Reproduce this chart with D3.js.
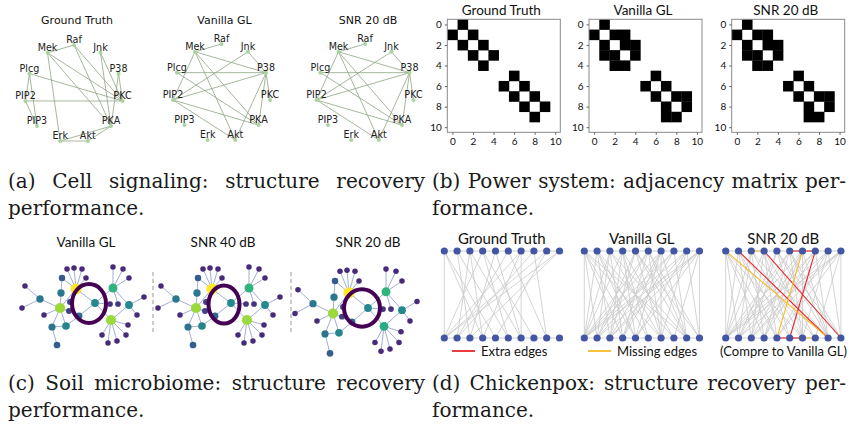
<!DOCTYPE html>
<html>
<head>
<meta charset="utf-8">
<script src="https://cdn.jsdelivr.net/npm/d3@7"></script>
<style>
  body { margin: 0; background: #fff; }
  svg { display: block; }
  .caption text { font-family: "DejaVu Serif", serif; font-size: 20px; fill: #1a1a1a; }
  .ptitle { font-family: Lato, "Open Sans", sans-serif; fill: #111; text-anchor: middle; dominant-baseline: central; }
</style>
</head>
<body>
<svg id="fig" width="851" height="434"></svg>
<script>
// ---------- (a) cell signaling ----------
const cellNodes = ["Raf", "Jnk", "P38", "PKC", "PKA", "Akt", "Erk", "PIP3", "PIP2", "Plcg", "Mek"];
const cellTruthEdges = [["Raf","Mek"],["Raf","PKA"],["Raf","PKC"],["Mek","PKC"],["Mek","PKA"],["Mek","Erk"],
  ["Jnk","PKA"],["Jnk","PKC"],["P38","PKC"],["P38","PKA"],["Plcg","PKC"],["Plcg","PIP2"],["Plcg","PIP3"],
  ["PIP2","PKC"],["PIP2","PIP3"],["Erk","Akt"],["Erk","PKA"],["Akt","PKA"]];
const cellGLEdges = [["Raf","Mek"],["Mek","P38"],["Mek","PKA"],["Mek","Akt"],["Mek","PIP2"],["Jnk","P38"],
  ["Jnk","PIP2"],["Plcg","P38"],["Plcg","PKA"],["PIP2","P38"],["PIP2","PKA"],["PIP2","Akt"],
  ["P38","PKC"],["P38","PKA"],["P38","Akt"]];
const cellSNREdges = [["Raf","Mek"],["Mek","P38"],["Mek","PKA"],["Mek","Akt"],["Mek","PIP2"],["Jnk","P38"],
  ["Jnk","PIP2"],["Plcg","P38"],["Plcg","PKA"],["PIP2","P38"],["PIP2","PKA"],["PIP2","Akt"],
  ["P38","PKC"],["P38","PKA"],["P38","Akt"]];

// ---------- (b) power system, black cells [row, col] ----------
const matSize = 11;
const matTicks = [0, 2, 4, 6, 8, 10];
const matTruth = [[0,1],[1,0],[1,2],[2,1],[2,3],[3,2],[3,4],[4,3],
  [5,6],[6,5],[6,7],[7,6],[7,8],[8,7],[8,9],[9,8]];
const matGL = [[0,1],[1,0],[1,2],[1,3],[2,1],[2,3],[2,4],[3,1],[3,2],[3,4],[4,2],[4,3],
  [5,6],[6,5],[6,7],[7,6],[7,8],[7,9],[8,7],[8,9],[9,7],[9,8]];
const matSNR = [[0,1],[1,0],[1,2],[1,3],[2,1],[2,3],[2,4],[3,1],[3,2],[3,4],[4,2],[4,3],
  [5,6],[6,5],[6,7],[7,6],[7,8],[7,9],[8,7],[8,9],[9,7],[9,8]];

// ---------- (c) soil microbiome: layout coords and node score ----------
const soilIds    = ["h0","h1","h2","h3","h4","h5","h6","h7","h8","h9","h10","h11",
  "a","b","c","d","e","f","g","k","m1","m2","m3","n1","n2","p1","p2","q1","q2","q3","q4","q5","s1","s2"];
const soilX      = [-13,-29,22,24,6,40,-49,-28,-23,-37,-10,-27,
  -22,-15,-7,-3,-64,-67,-45,-32,24,34,40,21,29,55,48,39,37,28,19,13,-19,-20];
const soilY      = [-14,5,17,-15,0,2,-4,-10,23,24,13,-25,
  -34,-35,-34,-25,-17,5,12,42,-36,-34,-25,1,1,-6,12,22,32,38,40,32,-1,8];
const soilScore  = [1.0,0.85,0.85,0.65,0.47,0.47,0.4,0.4,0.45,0.38,0.33,0.28,
  0.12,0.12,0.12,0.12,0.12,0.12,0.12,0.3,0.12,0.12,0.12,0.15,0.15,0.12,0.12,0.12,0.12,0.12,0.12,0.12,0.18,0.18];
const soilScoreSNR20 = { h2: 0.62 };
const soilEdges = [["h0","a"],["h0","b"],["h0","c"],["h0","d"],["h0","h11"],["h0","h1"],["h0","h4"],["h0","s1"],
  ["h11","h7"],["h7","h1"],["h1","h6"],["h1","h9"],["h1","h8"],["h1","g"],["h1","s2"],["h1","h10"],
  ["h6","e"],["h6","f"],["h9","h8"],["h9","k"],["h8","h10"],["h10","h4"],
  ["h4","h2"],["h4","h3"],["h4","n1"],["h3","m1"],["h3","m2"],["h3","m3"],["h3","n2"],
  ["h2","q1"],["h2","q2"],["h2","q3"],["h2","q4"],["h2","q5"],["h2","h5"],["h5","p1"],["h5","p2"],["h5","h3"]];

// ---------- (d) chickenpox: edges [top node, bottom node] ----------
const poxCount = 10;
const poxTruth = [[0,0],[0,3],[0,4],[1,2],[1,5],[2,1],[2,6],[3,0],[3,7],[4,2],[4,6],[5,1],[5,8],
  [6,0],[6,6],[6,3],[7,8],[7,1],[8,0],[8,4],[9,0],[9,2],[3,5],[2,3]];
const poxGL = [[0,0],[0,1],[0,3],[0,4],[0,6],[0,8],[1,0],[1,2],[1,5],[1,7],[2,1],[2,3],[2,6],[2,8],
  [3,0],[3,2],[3,5],[3,7],[4,1],[4,2],[4,6],[4,8],[5,0],[5,1],[5,3],[5,8],[5,9],
  [6,0],[6,2],[6,3],[6,4],[6,6],[7,1],[7,3],[7,8],[8,0],[8,2],[8,4],[8,6],
  [9,0],[9,1],[9,2],[9,4],[9,7],[9,9],[1,4],[2,0],[4,9],[6,8],[7,0],[8,9],[3,4],[5,6]];
const poxSNRExtra = [[1,8],[3,9],[7,5]];
const poxSNRMissing = [[0,8],[6,4]];
const poxRowExtra = { top: [[5,6],[6,7]], bottom: [[4,5],[5,6]] };
const poxRowMissing = { top: [[2,3]], bottom: [[6,7]] };

// ---------- captions ----------
const captionA = ["(a) Cell signaling: structure recovery", "performance."];
const captionB = ["(b) Power system: adjacency matrix per-", "formance."];
const captionC = ["(c) Soil microbiome: structure recovery", "performance."];
const captionD = ["(d) Chickenpox: structure recovery per-", "formance."];

const svg = d3.select("#fig");
svg.append("rect").attr("width", 851).attr("height", 434).attr("fill", "#fff");

const RED = "#e8262a", YELLOW = "#f6bd2a";

// ---- (a) ----
function drawCell(cx, cy, title, edges) {
  const g = svg.append("g");
  const ang = d3.scaleLinear().domain([0, cellNodes.length]).range([-Math.PI / 2, 1.5 * Math.PI]);
  const pos = {};
  cellNodes.forEach((n, i) => { pos[n] = [cx + 49 * Math.cos(ang(i)), cy + 49 * Math.sin(ang(i))]; });

  g.append("text").attr("x", cx + 3).attr("y", 20)
    .attr("text-anchor", "middle").attr("dominant-baseline", "central")
    .style("font", "11px 'DejaVu Sans'").attr("fill", "#111").text(title);

  g.selectAll(".e").data(edges).enter().append("line")
    .attr("x1", d => pos[d[0]][0]).attr("y1", d => pos[d[0]][1])
    .attr("x2", d => pos[d[1]][0]).attr("y2", d => pos[d[1]][1])
    .attr("stroke", "#8ea585").attr("stroke-width", 0.8);

  g.selectAll(".n").data(cellNodes).enter().append("circle")
    .attr("cx", d => pos[d][0]).attr("cy", d => pos[d][1]).attr("r", 2)
    .attr("fill", "#a9d49d");

  g.selectAll(".l").data(cellNodes).enter().append("text")
    .attr("x", d => pos[d][0]).attr("y", d => pos[d][1] - 1.6)
    .attr("text-anchor", "middle")
    .style("font", "9.6px 'DejaVu Sans'").attr("fill", "#222").text(d => d);
}
drawCell(74, 94, "Ground Truth", cellTruthEdges);
drawCell(221.5, 93, "Vanilla GL", cellGLEdges);
drawCell(365, 93, "SNR 20 dB", cellSNREdges);

// ---- (b) ----
function drawMatrix(x0, title, cells) {
  const top = 19.3, size = 113;
  const g = svg.append("g");
  const band = d3.scaleBand().domain(d3.range(matSize)).range([0, size]);
  const lin = d3.scaleLinear().domain([-0.5, matSize - 0.5]).range([0, size]);

  g.append("text").attr("class", "ptitle").attr("x", x0 + 54).attr("y", 10)
    .style("font-size", "13.5px").text(title);

  const m = g.append("g").attr("transform", `translate(${x0},${top})`);
  m.selectAll("rect.c").data(cells).enter().append("rect")
    .attr("x", d => band(d[1])).attr("y", d => band(d[0]))
    .attr("width", band.bandwidth() + 0.3).attr("height", band.bandwidth() + 0.3)
    .attr("fill", "#000");
  m.append("rect").attr("width", size).attr("height", size)
    .attr("fill", "none").attr("stroke", "#8a8a8a").attr("stroke-width", 1);

  const ax = d3.axisBottom(lin).tickValues(matTicks).tickSize(2.5).tickPadding(3);
  const ay = d3.axisLeft(lin).tickValues(matTicks).tickSize(2.5).tickPadding(3);
  const gx = m.append("g").attr("transform", `translate(0,${size})`).call(ax);
  const gy = m.append("g").call(ay);
  [gx, gy].forEach(a => {
    a.select(".domain").remove();
    a.selectAll("line").attr("stroke", "#666");
    a.selectAll("text").style("font", "10px Lato").attr("fill", "#111");
  });
}
drawMatrix(447.3, "Ground Truth", matTruth);
drawMatrix(589, "Vanilla GL", matGL);
drawMatrix(731.7, "SNR 20 dB", matSNR);

// ---- (c) ----
function drawSoil(cx, cy, titleX, title, ring, override) {
  const g = svg.append("g");
  const sx = d3.scaleLinear().domain([-70, 70]).range([cx - 70, cx + 70]);
  const sy = d3.scaleLinear().domain([-50, 50]).range([cy - 50 * ring.sy, cy + 50 * ring.sy]);
  const rad = d3.scaleLinear().domain([0.1, 1]).range([2.7, 5.6]);
  const nodes = soilIds.map((id, i) => ({ id, x: sx(soilX[i]), y: sy(soilY[i]),
    s: override[id] !== undefined ? override[id] : soilScore[i] }));
  const byId = Object.fromEntries(nodes.map(n => [n.id, n]));

  g.append("text").attr("class", "ptitle").attr("x", titleX).attr("y", 242)
    .style("font-size", "13.5px").text(title);

  g.selectAll("line").data(soilEdges).enter().append("line")
    .attr("x1", d => byId[d[0]].x).attr("y1", d => byId[d[0]].y)
    .attr("x2", d => byId[d[1]].x).attr("y2", d => byId[d[1]].y)
    .attr("stroke", "#a3aed6").attr("stroke-width", 1);

  g.selectAll("circle").data(nodes).enter().append("circle")
    .attr("cx", d => d.x).attr("cy", d => d.y).attr("r", d => rad(d.s))
    .attr("fill", d => d3.interpolateViridis(d.s));

  g.append("ellipse").attr("cx", sx(ring.dx)).attr("cy", sy(ring.dy))
    .attr("rx", ring.rx).attr("ry", ring.ry)
    .attr("fill", "none").attr("stroke", "#440154").attr("stroke-width", 4);
}
drawSoil(89, 303, 86, "Vanilla GL", { dx: 0, dy: 0.5, rx: 17, ry: 19.5, sy: 1 }, {});
drawSoil(225, 303, 223, "SNR 40 dB", { dx: -1, dy: 1.5, rx: 15.5, ry: 19, sy: 1 }, {});
drawSoil(362, 308, 368, "SNR 20 dB", { dx: 0, dy: 0, rx: 18, ry: 18.7, sy: 1.08 }, soilScoreSNR20);

[153, 291].forEach(x => {
  svg.append("line").attr("x1", x).attr("x2", x).attr("y1", 272).attr("y2", 332)
    .attr("stroke", "#999").attr("stroke-width", 1).attr("stroke-dasharray", "4,3");
});

// ---- (d) ----
function drawPox(x0, title, edges, extra, missing, rowExtra, rowMissing) {
  const g = svg.append("g");
  const x = d3.scalePoint().domain(d3.range(poxCount)).range([x0, x0 + 115.2]);
  const y = d3.scalePoint().domain(["top", "bottom"]).range([251, 338]);

  g.append("text").attr("class", "ptitle").attr("x", x0 + 57.5).attr("y", 238)
    .style("font-size", "15px").text(title);

  const rows = [];
  ["top", "bottom"].forEach(r => d3.range(poxCount - 1).forEach(i => rows.push([r, i, i + 1])));
  g.selectAll("line.row").data(rows).enter().append("line")
    .attr("x1", d => x(d[1])).attr("x2", d => x(d[2]))
    .attr("y1", d => y(d[0])).attr("y2", d => y(d[0]))
    .attr("stroke", "#cfcfcf").attr("stroke-width", 1);

  g.selectAll("line.e").data(edges).enter().append("line")
    .attr("x1", d => x(d[0])).attr("y1", y("top"))
    .attr("x2", d => x(d[1])).attr("y2", y("bottom"))
    .attr("stroke", "#c9c9c9").attr("stroke-width", 0.8);

  const colored = [];
  extra.forEach(d => colored.push({ a: ["top", d[0]], b: ["bottom", d[1]], c: RED }));
  missing.forEach(d => colored.push({ a: ["top", d[0]], b: ["bottom", d[1]], c: YELLOW }));
  ["top", "bottom"].forEach(r => {
    (rowExtra[r] || []).forEach(d => colored.push({ a: [r, d[0]], b: [r, d[1]], c: RED }));
    (rowMissing[r] || []).forEach(d => colored.push({ a: [r, d[0]], b: [r, d[1]], c: YELLOW }));
  });
  g.selectAll("line.c").data(colored).enter().append("line")
    .attr("x1", d => x(d.a[1])).attr("y1", d => y(d.a[0]))
    .attr("x2", d => x(d.b[1])).attr("y2", d => y(d.b[0]))
    .attr("stroke", d => d.c).attr("stroke-width", 1.1);

  const nodes = [];
  ["top", "bottom"].forEach(r => d3.range(poxCount).forEach(i => nodes.push([r, i])));
  g.selectAll("circle").data(nodes).enter().append("circle")
    .attr("cx", d => x(d[1])).attr("cy", d => y(d[0])).attr("r", 3.6)
    .attr("fill", "#4356a6");
}
drawPox(444.3, "Ground Truth", poxTruth, [], [], {}, {});
drawPox(584.3, "Vanilla GL", poxGL, [], [], {}, {});
drawPox(725.7, "SNR 20 dB", poxGL.filter(e => !poxSNRMissing.some(m => m[0] === e[0] && m[1] === e[1])),
  poxSNRExtra, poxSNRMissing, poxRowExtra, poxRowMissing);

// legend
const legend = [
  { x: 452, label: "Extra edges", c: RED },
  { x: 588, label: "Missing edges", c: YELLOW }
];
legend.forEach(d => {
  svg.append("line").attr("x1", d.x).attr("x2", d.x + 23).attr("y1", 351).attr("y2", 351)
    .attr("stroke", d.c).attr("stroke-width", 1.8);
  svg.append("text").attr("x", d.x + 29).attr("y", 351).attr("dominant-baseline", "central")
    .style("font", "13px Lato").attr("fill", "#111").text(d.label);
});
svg.append("text").attr("x", 783.5).attr("y", 351).attr("text-anchor", "middle")
  .attr("dominant-baseline", "central").style("font", "13px Lato").attr("fill", "#111")
  .text("(Compre to Vanilla GL)");

// ---- captions (justified first line) ----
function caption(x0, x1, yBase, lines) {
  const g = svg.append("g").attr("class", "caption");
  const words = lines[0].split(" ");
  const ts = words.map(w => g.append("text").attr("y", yBase).text(w));
  const widths = ts.map(t => t.node().getComputedTextLength());
  const gap = (x1 - x0 - d3.sum(widths)) / (words.length - 1);
  let x = x0;
  ts.forEach((t, i) => { t.attr("x", x); x += widths[i] + gap; });
  g.append("text").attr("x", x0).attr("y", yBase + 27).text(lines[1]);
}
caption(8, 425, 188, captionA);
caption(432, 846, 188, captionB);
caption(8, 425, 390, captionC);
caption(432, 846, 390, captionD);
</script>
</body>
</html>
